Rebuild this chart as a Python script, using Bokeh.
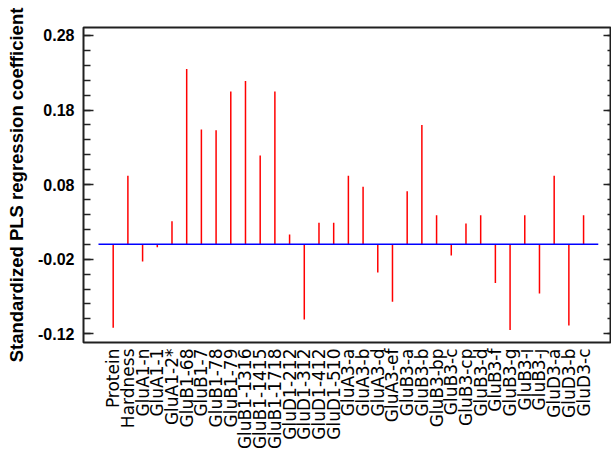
import math
from bokeh.plotting import figure
from bokeh.models import (Range1d, FixedTicker, PrintfTickFormatter, LinearAxis,
                          ColumnDataSource, CustomJSTickFormatter)
from bokeh.embed import file_html
from bokeh.resources import INLINE

names = ["Protein", "Hardness", "GluA1-n", "GluA1-1", "GluA1-2*", "GluB1-68", "GluB1-7",
         "GluB1-78", "GluB1-79", "GluB1-1316", "GluB1-1415", "GluB1-1718", "GluD1-212",
         "GluD1-312", "GluD1-412", "GluD1-510", "GluA3-a", "GluA3-b", "GluA3-d", "GluA3-ef",
         "GluB3-a", "GluB3-b", "GluB3-bp", "GluB3-c", "GluB3-cp", "GluB3-d", "GluB3-f",
         "GluB3-g", "GluB3-i", "GluB3-j", "GluD3-a", "GluD3-b", "GluD3-c"]

coefs = [-0.112, 0.092, -0.023, -0.004, 0.031, 0.235, 0.154,
         0.153, 0.205, 0.219, 0.119, 0.205, 0.013,
         -0.101, 0.029, 0.029, 0.092, 0.077, -0.038, -0.077,
         0.071, 0.160, 0.039, -0.015, 0.028, 0.039, -0.052,
         -0.115, 0.039, -0.066, 0.092, -0.109, 0.039]

y_major = [-0.12, -0.02, 0.08, 0.18, 0.28]
y_minor = [-0.12, -0.10, -0.08, -0.06, -0.04, -0.02, 0.0, 0.02, 0.04, 0.06, 0.08,
           0.10, 0.12, 0.14, 0.16, 0.18, 0.20, 0.22, 0.24, 0.26, 0.28]

n = len(names)
idx = list(range(n))
src = ColumnDataSource(dict(x=idx, y0=[0.0] * n, y1=coefs))

p = figure(width=611, height=457, output_backend="svg", toolbar_location=None, title=None,
           x_range=Range1d(-2.02, 33.9), y_range=Range1d(-0.1317, 0.2907),
           min_border_left=83, min_border_top=27, min_border_bottom=115, min_border_right=0)
p.background_fill_color = "white"
p.border_fill_color = "white"
p.grid.visible = False
p.outline_line_color = "#202020"
p.outline_line_width = 2

p.segment(x0="x", y0="y0", x1="x", y1="y1", source=src, line_color="#ff0000", line_width=1.5)
p.line(x=[-1, n], y=[0, 0], line_color="#0000ff", line_width=1.6)

# x axis
xa = p.xaxis[0]
xa.ticker = FixedTicker(ticks=idx)
xa.major_label_overrides = {i: nm for i, nm in enumerate(names)}
xa.major_label_orientation = math.pi / 2
xa.major_tick_in = 0
xa.major_tick_out = 0
xa.minor_tick_in = 0
xa.minor_tick_out = 0
xa.axis_line_color = None
xa.major_label_standoff = 6
xa.major_label_text_font = "DejaVu Sans"
xa.major_label_text_font_size = "17px"
xa.major_label_text_color = "black"

# left y axis
ya = p.yaxis[0]
ya.ticker = FixedTicker(ticks=y_major, minor_ticks=y_minor)
ya.formatter = PrintfTickFormatter(format="%.2f")
ya.major_tick_in = 10
ya.major_tick_out = 0
ya.minor_tick_in = 7
ya.minor_tick_out = 0
ya.major_tick_line_color = "#222222"
ya.minor_tick_line_color = "#222222"
ya.major_tick_line_width = 1.5
ya.minor_tick_line_width = 1.5
ya.axis_line_color = None
ya.major_label_standoff = 9
ya.major_label_text_font = "Liberation Sans"
ya.major_label_text_font_style = "bold"
ya.major_label_text_font_size = "16px"
ya.major_label_text_color = "black"
ya.axis_label = "Standardized PLS regression coefficient"
ya.axis_label_text_font = "Liberation Sans"
ya.axis_label_text_font_style = "bold"
ya.axis_label_text_font_size = "18.5px"
ya.axis_label_text_color = "black"
ya.axis_label_standoff = 8

# right mirror ticks (no labels)
ra = LinearAxis(ticker=FixedTicker(ticks=y_major, minor_ticks=y_minor),
                formatter=CustomJSTickFormatter(code="return ''"),
                major_tick_in=8, major_tick_out=0, minor_tick_in=4, minor_tick_out=0,
                major_tick_line_color="#222222", minor_tick_line_color="#222222",
                major_tick_line_width=1.5, minor_tick_line_width=1.5,
                axis_line_color=None, major_label_text_color=None,
                major_label_standoff=0)
p.add_layout(ra, "right")

open("out.html", "w").write(file_html(p, INLINE))
